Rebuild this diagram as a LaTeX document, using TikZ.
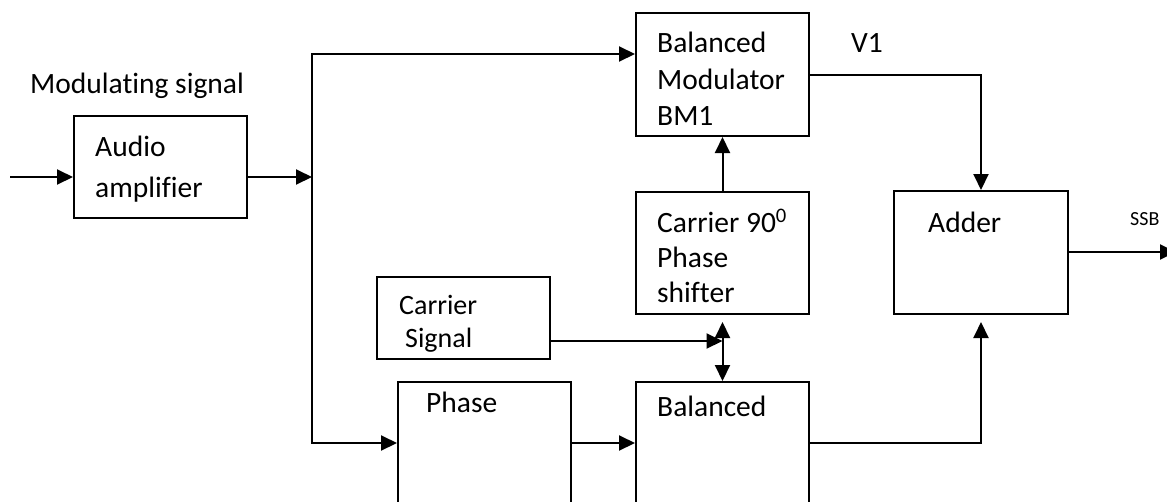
\documentclass[tikz,border=0pt]{standalone}
\usepackage{fontspec}
\setmainfont[Ligatures=NoCommon]{Carlito}
\usetikzlibrary{arrows.meta}
\begin{document}
\begin{tikzpicture}[x=1pt,y=-1pt,
  blk/.style={draw,line width=2pt,inner sep=0pt,minimum width=173pt,minimum height=123pt},
  lbl/.style={anchor=base west,inner sep=0pt,font=\fontsize{29.5}{34}\selectfont},
  slbl/.style={anchor=base west,inner sep=0pt,font=\fontsize{28}{32}\selectfont},
  ln/.style={line width=2pt},
  con/.style={line width=2pt,-{Triangle[length=16pt,width=15pt]}}]
\useasboundingbox (0,0) rectangle (1167,501);
\clip (0,0) rectangle (1167,501);
% blocks
\node[blk,minimum height=102pt] (audio) at (160.5,167) {};
\node[blk] (bm1) at (722.5,74.5) {};
\node[blk,minimum height=122pt] (c90) at (722.5,253) {};
\node[blk,minimum width=174pt] (adder) at (981,252.5) {};
\node[blk,minimum height=82pt] (csig) at (463.5,318) {};
\node[blk] (phase) at (484.5,443.5) {};
\node[blk] (bal) at (722.5,443.5) {};
% coordinates
\coordinate (in) at (10,177);
\coordinate (split) at (312,177);
\coordinate (top) at (312,54);
\coordinate (bot) at (312,443);
\coordinate (v1c) at (981,75);
\coordinate (mix) at (722.5,341);
\coordinate (c90in) at (722.5,322);
\coordinate (balc) at (981,443);
\coordinate (addin) at (981,322);
\coordinate (out) at (1176,252);
% connectors
\draw[con] (in) -- (in -| audio.west);
\draw[con] (split -| audio.east) -- (split);
\draw[con] (bot) -- (top) -- (top -| bm1.west);
\draw[con] (top) -- (bot) -- (bot -| phase.west);
\draw[con] (phase.east |- bot) -- (bal.west |- bot);
\draw[con] (bm1.east |- v1c) -- (v1c) -- (adder.north);
\draw[con] (c90.north) -- (bm1.south);
\draw[con] (csig.east |- mix) -- (mix);
\draw[ln,{Triangle[length=16pt,width=15pt]}-{Triangle[length=16pt,width=15pt]}] (c90in) -- (bal.north);
\draw[con] (bal.east |- balc) -- (balc) -- (addin);
\draw[con] (adder.east |- out) -- (out);
% texts
\node[lbl] (tmod) at (30,93) {Modulating signal};
\node[lbl] (ta1) at (95,156) {Audio};
\node[lbl] (ta2) at (95,197) {amplifier};
\node[lbl] (tb1) at (657,52) {Balanced};
\node[lbl] (tb2) at (657,89) {Modulator};
\node[lbl] (tb3) at (657,125) {BM1};
\node[lbl] (tv1) at (851,52) {V1};
\node[lbl] (tc1) at (657,232) {Carrier 90\textsuperscript{0}};
\node[lbl] (tc2) at (657,267) {Phase};
\node[lbl] (tc3) at (657,302) {shifter};
\node[lbl] (tadd) at (928,232) {Adder};
\node[anchor=base west,inner sep=0pt,font=\fontsize{20}{24}\selectfont] (tssb) at (1130,225) {SSB};
\node[slbl] (ts1) at (399,314) {Carrier};
\node[slbl] (ts2) at (405,347) {Signal};
\node[lbl] (tph) at (426,412) {Phase};
\node[lbl] (tbal) at (657,416) {Balanced};
\end{tikzpicture}
\end{document}
